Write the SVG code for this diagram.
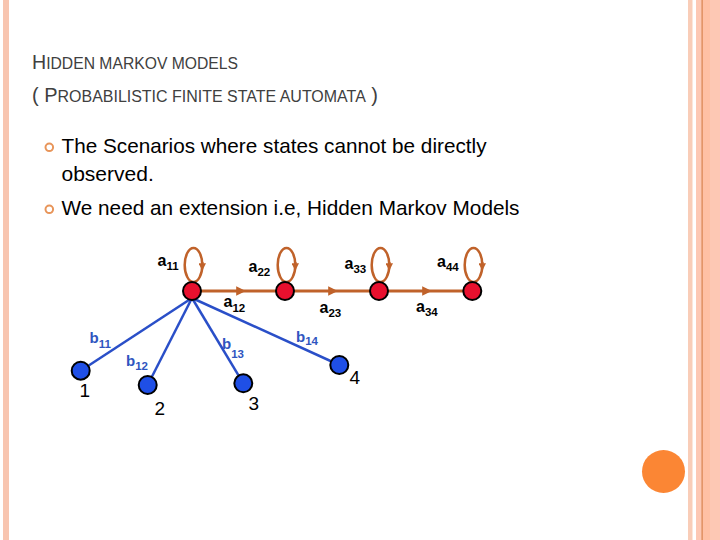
<svg xmlns="http://www.w3.org/2000/svg" width="720" height="540" viewBox="0 0 720 540">
<defs>
<style>
.title{font-family:"Liberation Sans",Arial,sans-serif;fill:#404040}
.body{font-family:"Liberation Sans",Arial,sans-serif;font-size:21px;fill:#000}
.lbl{font-family:"Liberation Sans",Arial,sans-serif;font-size:16px;font-weight:bold;fill:#000}
.sub{font-size:11.5px;font-weight:bold}
.blbl{font-family:"Liberation Sans",Arial,sans-serif;font-size:15px;font-weight:bold;fill:#2F55C0}
.num{font-family:"Liberation Sans",Arial,sans-serif;font-size:19px;fill:#000}
.trans{stroke:#C0622A;stroke-width:3;fill:none}
.loop{stroke:#C0622A;stroke-width:2.5;fill:none}
.emit{stroke:#2A4FC8;stroke-width:2.5;fill:none}
.state{fill:#E8102E;stroke:#000;stroke-width:2}
.obs{fill:#1F4FE6;stroke:#000;stroke-width:2}
.bullet{fill:none;stroke:#E8955A;stroke-width:2}
</style>
<marker id="ah" viewBox="0 0 10 10" refX="5" refY="5" markerWidth="3.2" markerHeight="3.2" orient="auto" markerUnits="strokeWidth">
<path d="M0,0 L10,5 L0,10 z" fill="#C0622A"/>
</marker>
<marker id="ahs" viewBox="0 0 10 10" refX="5" refY="5" markerWidth="3" markerHeight="3" orient="auto" markerUnits="strokeWidth">
<path d="M0,0 L10,5 L0,10 z" fill="#C0622A"/>
</marker>
</defs>
<rect width="720" height="540" fill="#fff"/>
<!-- borders -->
<rect x="3" y="0" width="6" height="540" fill="#F8C5B0"/>
<rect x="688" y="0" width="4.5" height="540" fill="#F9CDB8"/>
<rect x="696" y="0" width="24" height="540" fill="#FDC8B4"/>
<rect x="702" y="0" width="8" height="540" fill="#FFC0A4"/>
<rect x="701.5" y="0" width="1.2" height="540" fill="#D9834F"/>
<circle cx="663.5" cy="471.5" r="21.5" fill="#FB8634"/>
<!-- title -->
<text class="title" x="32" y="69" textLength="206" lengthAdjust="spacingAndGlyphs"><tspan font-size="20">H</tspan><tspan font-size="16">IDDEN MARKOV MODELS</tspan></text>
<text class="title" x="32" y="101.5" textLength="346" lengthAdjust="spacingAndGlyphs"><tspan font-size="20">( P</tspan><tspan font-size="16">ROBABILISTIC FINITE STATE AUTOMATA</tspan><tspan font-size="20"> )</tspan></text>
<!-- bullets -->
<circle class="bullet" cx="49.3" cy="147.3" r="3.8"/>
<circle class="bullet" cx="49.3" cy="209.3" r="3.8"/>
<text class="body" x="61.5" y="153" textLength="425" lengthAdjust="spacingAndGlyphs">The Scenarios where states cannot be directly</text>
<text class="body" x="61.5" y="181">observed.</text>
<text class="body" x="61.5" y="215" textLength="458" lengthAdjust="spacingAndGlyphs">We need an extension i.e, Hidden Markov Models</text>
<!-- connectors -->
<g id="connectors">
<ellipse class="loop" cx="193.5" cy="265" rx="8.8" ry="17"/>
<ellipse class="loop" cx="286.5" cy="265" rx="8.8" ry="17"/>
<ellipse class="loop" cx="380.5" cy="265" rx="8.8" ry="17"/>
<ellipse class="loop" cx="473.5" cy="265" rx="8.8" ry="17"/>
<line class="loop" x1="202.3" y1="262" x2="202.3" y2="267" marker-end="url(#ahs)"/>
<line class="loop" x1="295.3" y1="262" x2="295.3" y2="267" marker-end="url(#ahs)"/>
<line class="loop" x1="389.3" y1="262" x2="389.3" y2="267" marker-end="url(#ahs)"/>
<line class="loop" x1="482.3" y1="262" x2="482.3" y2="267" marker-end="url(#ahs)"/>
<line class="trans" x1="200" y1="291" x2="241" y2="291" marker-end="url(#ah)"/>
<line class="trans" x1="240" y1="291" x2="277" y2="291"/>
<line class="trans" x1="293" y1="291" x2="333" y2="291" marker-end="url(#ah)"/>
<line class="trans" x1="332" y1="291" x2="371" y2="291"/>
<line class="trans" x1="387" y1="291" x2="427" y2="291" marker-end="url(#ah)"/>
<line class="trans" x1="426" y1="291" x2="464" y2="291"/>
<line class="emit" x1="192" y1="298" x2="80.7" y2="370.7"/>
<line class="emit" x1="192" y1="298" x2="147.7" y2="385"/>
<line class="emit" x1="192" y1="298" x2="243.3" y2="383.3"/>
<line class="emit" x1="192" y1="298" x2="339.3" y2="365"/>
</g>
<!-- hidden states -->
<g id="s1"><circle class="state" cx="192" cy="291" r="9"/></g>
<g id="s2"><circle class="state" cx="285" cy="291" r="9"/></g>
<g id="s3"><circle class="state" cx="379" cy="291" r="9"/></g>
<g id="s4"><circle class="state" cx="472.3" cy="291" r="9"/></g>
<!-- observations -->
<g id="o1"><circle class="obs" cx="80.7" cy="370.7" r="9"/><text class="num" x="79.5" y="397">1</text></g>
<g id="o2"><circle class="obs" cx="147.7" cy="385" r="9"/><text class="num" x="154.5" y="415">2</text></g>
<g id="o3"><circle class="obs" cx="243.3" cy="383.3" r="9"/><text class="num" x="248.5" y="410">3</text></g>
<g id="o4"><circle class="obs" cx="339.3" cy="365" r="9"/><text class="num" x="349.5" y="384">4</text></g>
<!-- labels -->
<g id="labels">
<text class="lbl" x="157.5" y="266">a<tspan class="sub" dy="4">11</tspan></text>
<text class="lbl" x="248.5" y="272">a<tspan class="sub" dy="4">22</tspan></text>
<text class="lbl" x="344.5" y="269">a<tspan class="sub" dy="3.5">33</tspan></text>
<text class="lbl" x="437" y="267">a<tspan class="sub" dy="4">44</tspan></text>
<text class="lbl" x="223.5" y="307">a<tspan class="sub" dy="5">12</tspan></text>
<text class="lbl" x="319.5" y="313">a<tspan class="sub" dy="4">23</tspan></text>
<text class="lbl" x="416" y="312">a<tspan class="sub" dy="4">34</tspan></text>
<text class="blbl" x="89.5" y="343">b<tspan class="sub" dy="5">11</tspan></text>
<text class="blbl" x="126" y="366">b<tspan class="sub" dy="4">12</tspan></text>
<text class="blbl" x="222" y="349">b<tspan class="sub" dy="9">13</tspan></text>
<text class="blbl" x="296" y="342">b<tspan class="sub" dy="3">14</tspan></text>
</g>
</svg>
